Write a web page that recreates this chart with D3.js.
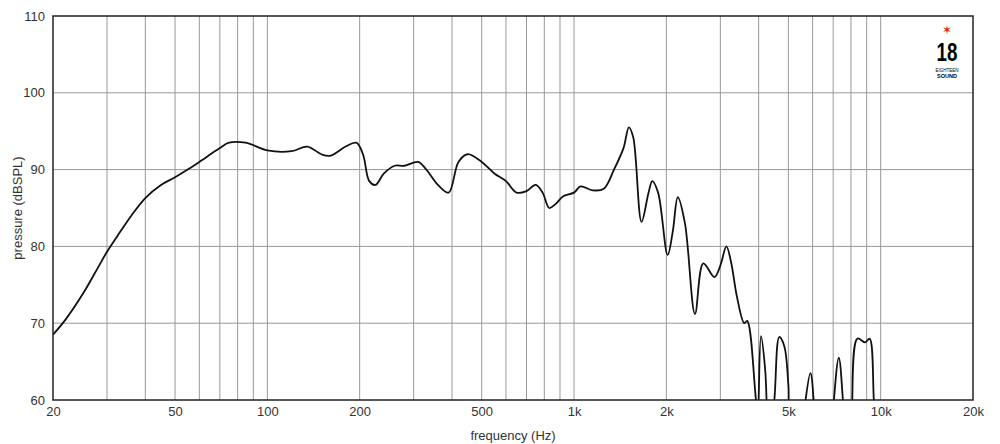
<!DOCTYPE html>
<html><head><meta charset="utf-8">
<script src="https://d3js.org/d3.v7.min.js"></script>
<style>body{margin:0;background:#fff;}</style>
</head><body>
<div id="chart"></div>
<script>
const freqs = [20,22,25,28,30,33,36,40,45,50,55,60,70,75,85,100,120,135,150,160,180,195,205,215,225,240,260,280,310,330,360,390,420,450,500,550,600,650,700,750,790,830,870,920,1000,1050,1150,1250,1350,1450,1510,1560,1660,1750,1800,1880,2020,2100,2180,2300,2480,2640,2870,3000,3140,3250,3400,3590,3670,3900,3970,4070,4200,4320,4500,4670,4850,5000,5120,5400,5600,5900,6100,6300,6700,6900,7300,7600,7900,8050,8400,8900,9200,9500,9700];
const spl   = [68.5,70.5,73.8,77.2,79.3,81.8,84,86.3,88,89,90,91,92.8,93.5,93.5,92.5,92.4,93,92,91.8,93,93.5,92,88.5,88,89.5,90.5,90.5,91,90,88,87,91,92,91,89.5,88.5,87,87.2,88,87,85,85.5,86.5,87,87.8,87.3,87.5,90,92.8,95.5,94.2,83.2,87,88.5,87,78.9,82,86.4,83,71.2,77.8,76,77.5,80,78,73.4,70,70.3,61,57,68.3,64,54,60,68.2,67,62,54,54,58,63.5,58,52,52,56,65.5,58,52,58,68,67.5,68,60,54];
const xTicks = [20,50,100,200,500,1000,2000,5000,10000,20000];
const xTickLabels = ["20","50","100","200","500","1k","2k","5k","10k","20k"];
const yTicks = [60,70,80,90,100,110];

const margin = {top: 16, right: 27, bottom: 44, left: 53};
const W = 1000, H = 444;
const width = W - margin.left - margin.right, height = H - margin.top - margin.bottom;

const svg = d3.select("#chart").append("svg").attr("width", W).attr("height", H)
    .style("font-family", "Liberation Sans, Arial, sans-serif");
const g = svg.append("g").attr("transform", `translate(${margin.left},${margin.top})`);

const x = d3.scaleLog().domain([20, 20000]).range([0, width]);
const y = d3.scaleLinear().domain([60, 110]).range([height, 0]);

// grid
const gridF = [];
for (let d = 10; d <= 10000; d *= 10) for (let k = 1; k <= 9; k++) { const f = d * k; if (f > 20 && f < 20000) gridF.push(f); }
g.selectAll(".vg").data(gridF).enter().append("line")
    .attr("x1", d => x(d)).attr("x2", d => x(d)).attr("y1", 0).attr("y2", height)
    .attr("stroke", "#999").attr("stroke-width", 1);
g.selectAll(".hg").data(yTicks.slice(1, -1)).enter().append("line")
    .attr("x1", 0).attr("x2", width).attr("y1", d => y(d)).attr("y2", d => y(d))
    .attr("stroke", "#999").attr("stroke-width", 1);

// curve
g.append("clipPath").attr("id", "clip").append("rect").attr("width", width).attr("height", height);
const pts = freqs.map((f, i) => [f, spl[i]]);
g.append("path").datum(pts).attr("clip-path", "url(#clip)")
    .attr("fill", "none").attr("stroke", "#111").attr("stroke-width", 1.8)
    .attr("d", d3.line().x(d => x(d[0])).y(d => y(d[1])).curve(d3.curveCatmullRom.alpha(0.5)));

g.append("rect").attr("width", width).attr("height", height).attr("fill", "none").attr("stroke", "#222").attr("stroke-width", 1.5);

// axes
g.append("g").attr("transform", `translate(0,${height})`)
    .call(d3.axisBottom(x).tickValues(xTicks).tickFormat((d, i) => xTickLabels[i]).tickSize(0).tickPadding(7))
    .call(a => a.select(".domain").remove())
    .call(a => a.selectAll("text").attr("fill", "#333").style("font-size", "13px"));
g.append("g")
    .call(d3.axisLeft(y).tickValues(yTicks).tickSize(0).tickPadding(8))
    .call(a => a.select(".domain").remove())
    .call(a => a.selectAll("text").attr("fill", "#333").style("font-size", "13px"));

svg.append("text").attr("x", margin.left + width / 2).attr("y", H - 4).attr("text-anchor", "middle")
    .attr("fill", "#333").style("font-size", "13px").text("frequency (Hz)");
svg.append("text").attr("transform", `translate(22,${margin.top + height / 2}) rotate(-90)`).attr("text-anchor", "middle")
    .attr("fill", "#333").style("font-size", "13px").text("pressure (dBSPL)");

// logo
const logo = svg.append("g").attr("transform", "translate(947,36)");
logo.append("text").attr("y", -2).attr("text-anchor", "middle").attr("fill", "#e22").style("font-size", "12px").text("✶");
logo.append("text").attr("y", 25).attr("text-anchor", "middle").attr("fill", "#000").style("font-size", "25px")
    .style("font-weight", "bold").attr("transform", "scale(0.75,1)").text("18");
logo.append("text").attr("y", 36).attr("text-anchor", "middle").style("font-size", "4.5px").text("EIGHTEEN");
logo.append("text").attr("y", 42).attr("text-anchor", "middle").style("font-size", "5.5px").style("font-weight", "bold").text("SOUND");
</script>
</body></html>
